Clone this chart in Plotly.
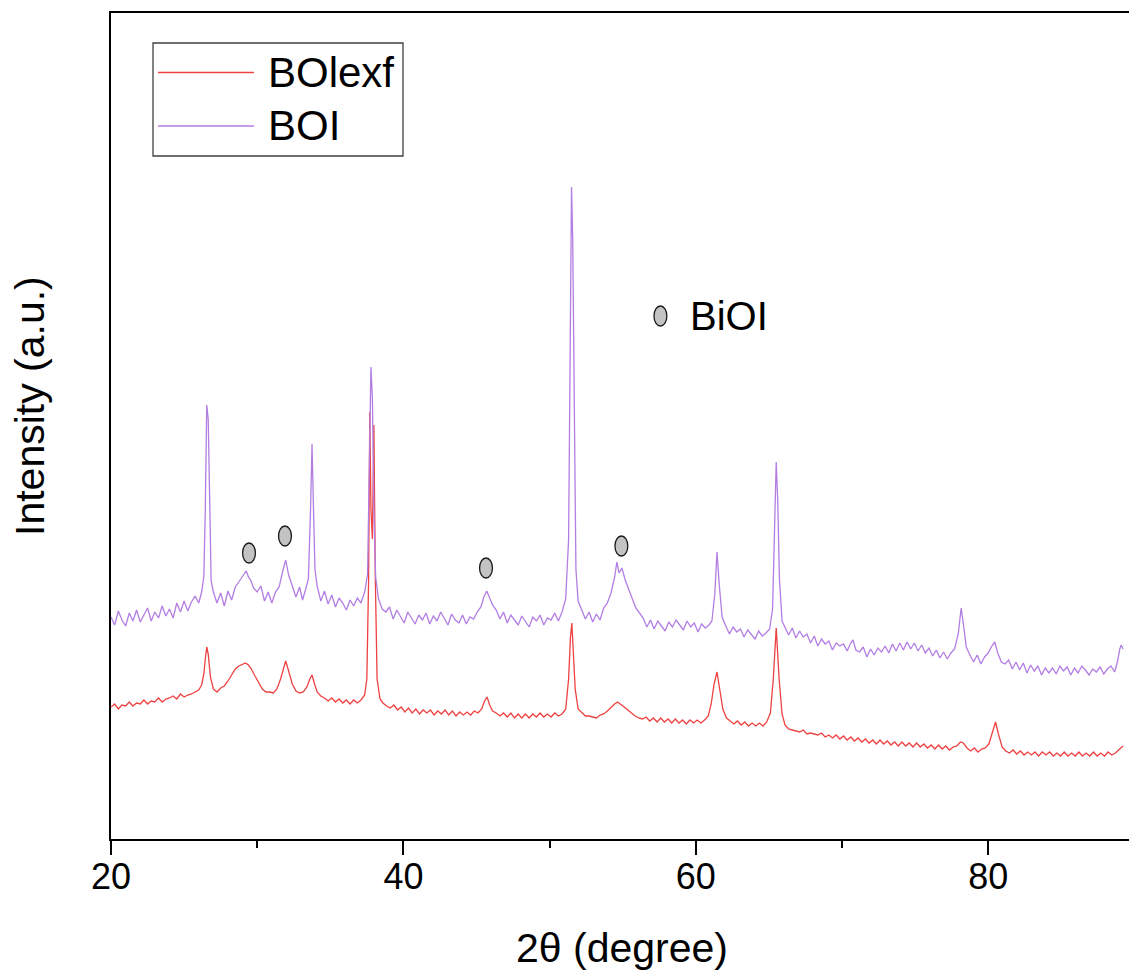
import plotly.graph_objects as go

# ---------------- data ----------------
series_names = ["BOlexf", "BOI"]
series_colors = ["#ee4141", "#b37ee3"]

# BOI pattern: (2theta, intensity a.u.)
boi_points = [
    (20.00, 222), (20.25, 214), (20.50, 228), (20.75, 219), (21.00, 213), (21.25, 226),
    (21.50, 218), (21.75, 229), (22.00, 217), (22.25, 224), (22.50, 231), (22.75, 218),
    (23.00, 227), (23.25, 221), (23.50, 233), (23.75, 223), (24.00, 230), (24.25, 221),
    (24.50, 236), (24.75, 227), (25.00, 238), (25.25, 228), (25.50, 237), (25.75, 243),
    (26.00, 236), (26.20, 247), (26.35, 262), (26.45, 330), (26.55, 434), (26.65, 420),
    (26.75, 320), (26.85, 258), (27.00, 247), (27.25, 236), (27.50, 246), (27.75, 233),
    (28.00, 248), (28.25, 239), (28.50, 252), (28.75, 257), (29.00, 263), (29.25, 268),
    (29.40, 262), (29.55, 259), (29.75, 251), (30.00, 247), (30.25, 253), (30.50, 238),
    (30.75, 247), (31.00, 236), (31.25, 247), (31.50, 252), (31.75, 268), (31.95, 279),
    (32.15, 264), (32.40, 253), (32.65, 242), (32.90, 252), (33.10, 239), (33.30, 249),
    (33.50, 260), (33.65, 330), (33.75, 395), (33.85, 330), (33.95, 270), (34.10, 253),
    (34.35, 238), (34.60, 248), (34.85, 235), (35.10, 244), (35.35, 232), (35.60, 241),
    (35.85, 236), (36.10, 229), (36.35, 239), (36.60, 233), (36.85, 241), (37.10, 236),
    (37.35, 247), (37.55, 265), (37.70, 380), (37.78, 472), (37.88, 440), (37.98, 330),
    (38.10, 262), (38.30, 240), (38.55, 230), (38.80, 227), (39.05, 232), (39.30, 220),
    (39.55, 229), (39.80, 223), (40.05, 216), (40.30, 227), (40.55, 221), (40.80, 215),
    (41.05, 224), (41.30, 219), (41.55, 226), (41.80, 215), (42.05, 223), (42.30, 218),
    (42.55, 227), (42.80, 220), (43.05, 214), (43.30, 225), (43.55, 219), (43.80, 216),
    (44.05, 224), (44.30, 215), (44.55, 222), (44.80, 220), (45.05, 227), (45.30, 232),
    (45.50, 242), (45.70, 248), (45.90, 240), (46.10, 234), (46.35, 229), (46.60, 220),
    (46.85, 227), (47.10, 216), (47.35, 224), (47.60, 219), (47.85, 214), (48.10, 223),
    (48.35, 217), (48.60, 212), (48.85, 222), (49.10, 218), (49.35, 224), (49.60, 214),
    (49.85, 221), (50.10, 219), (50.35, 226), (50.60, 218), (50.85, 227), (51.10, 240),
    (51.30, 300), (51.40, 480), (51.50, 652), (51.58, 600), (51.68, 420), (51.80, 270),
    (51.95, 238), (52.20, 229), (52.45, 220), (52.70, 227), (52.95, 217), (53.20, 225),
    (53.45, 219), (53.70, 231), (53.95, 236), (54.20, 246), (54.45, 262), (54.60, 277),
    (54.75, 266), (54.95, 271), (55.15, 260), (55.40, 250), (55.65, 241), (55.90, 231),
    (56.15, 226), (56.40, 221), (56.65, 212), (56.90, 219), (57.15, 210), (57.40, 218),
    (57.65, 213), (57.90, 208), (58.15, 217), (58.40, 212), (58.65, 219), (58.90, 214),
    (59.15, 209), (59.40, 218), (59.65, 212), (59.90, 216), (60.15, 207), (60.40, 215),
    (60.65, 211), (60.90, 214), (61.10, 218), (61.30, 245), (61.45, 287), (61.60, 255),
    (61.80, 222), (62.05, 213), (62.30, 205), (62.55, 212), (62.80, 207), (63.05, 210),
    (63.30, 202), (63.55, 209), (63.80, 205), (64.05, 200), (64.30, 208), (64.55, 203),
    (64.80, 206), (65.05, 210), (65.25, 230), (65.40, 320), (65.50, 377), (65.60, 340),
    (65.72, 260), (65.90, 218), (66.10, 212), (66.35, 204), (66.60, 211), (66.85, 201),
    (67.10, 208), (67.35, 202), (67.60, 205), (67.85, 196), (68.10, 203), (68.35, 193),
    (68.60, 200), (68.85, 195), (69.10, 198), (69.35, 189), (69.60, 196), (69.85, 193),
    (70.10, 195), (70.35, 188), (70.60, 196), (70.75, 199), (70.95, 189), (71.20, 187),
    (71.45, 192), (71.70, 182), (71.95, 190), (72.20, 184), (72.45, 191), (72.70, 187),
    (72.95, 193), (73.20, 186), (73.45, 195), (73.70, 188), (73.95, 196), (74.20, 189),
    (74.45, 197), (74.70, 190), (74.95, 196), (75.20, 188), (75.45, 194), (75.70, 186),
    (75.95, 191), (76.20, 183), (76.45, 189), (76.70, 181), (76.95, 187), (77.20, 180),
    (77.45, 186), (77.70, 190), (77.95, 205), (78.15, 231), (78.30, 215), (78.50, 192),
    (78.75, 184), (79.00, 177), (79.25, 184), (79.50, 175), (79.75, 182), (80.00, 186),
    (80.25, 193), (80.45, 197), (80.65, 186), (80.90, 177), (81.15, 175), (81.40, 179),
    (81.65, 170), (81.90, 177), (82.15, 169), (82.40, 176), (82.65, 166), (82.90, 174),
    (83.15, 168), (83.40, 173), (83.65, 164), (83.90, 171), (84.15, 166), (84.40, 171),
    (84.65, 165), (84.90, 173), (85.15, 168), (85.40, 172), (85.65, 164), (85.90, 171),
    (86.15, 166), (86.40, 173), (86.65, 169), (86.90, 164), (87.15, 170), (87.40, 167),
    (87.65, 172), (87.90, 165), (88.15, 170), (88.40, 173), (88.65, 167), (88.85, 178),
    (89.00, 190), (89.10, 194), (89.22, 190),
]

# BOlexf pattern: (2theta, intensity a.u.)
bolexf_points = [
    (20.00, 132), (20.25, 135), (20.50, 130), (20.75, 134), (21.00, 133), (21.25, 137),
    (21.50, 133), (21.75, 136), (22.00, 135), (22.25, 139), (22.50, 135), (22.75, 138),
    (23.00, 137), (23.25, 141), (23.50, 137), (23.75, 140), (24.00, 141), (24.25, 143),
    (24.50, 140), (24.75, 145), (25.00, 142), (25.25, 144), (25.50, 145), (25.75, 147),
    (26.00, 149), (26.20, 154), (26.35, 165), (26.45, 180), (26.55, 192), (26.65, 185),
    (26.80, 162), (27.00, 150), (27.25, 147), (27.50, 151), (27.75, 153), (28.00, 158),
    (28.25, 164), (28.50, 170), (28.75, 173), (29.00, 175), (29.20, 176), (29.40, 174),
    (29.60, 170), (29.85, 163), (30.10, 156), (30.35, 150), (30.60, 147), (30.85, 147),
    (31.10, 146), (31.35, 150), (31.60, 160), (31.80, 172), (31.95, 178), (32.15, 168),
    (32.40, 155), (32.65, 148), (32.90, 146), (33.15, 147), (33.40, 152), (33.60, 160),
    (33.75, 164), (33.90, 156), (34.10, 147), (34.35, 143), (34.60, 141), (34.85, 138),
    (35.10, 141), (35.35, 137), (35.60, 140), (35.85, 136), (36.10, 139), (36.35, 135),
    (36.60, 139), (36.85, 136), (37.10, 139), (37.35, 144), (37.50, 160), (37.62, 260),
    (37.70, 427), (37.78, 330), (37.88, 300), (37.98, 414), (38.08, 260), (38.20, 160),
    (38.40, 140), (38.60, 136), (38.85, 133), (39.10, 131), (39.35, 134), (39.60, 129),
    (39.85, 132), (40.10, 127), (40.35, 131), (40.60, 126), (40.85, 130), (41.10, 125),
    (41.35, 129), (41.60, 126), (41.85, 129), (42.10, 124), (42.35, 128), (42.60, 125),
    (42.85, 129), (43.10, 124), (43.35, 128), (43.60, 123), (43.85, 127), (44.10, 124),
    (44.35, 127), (44.60, 124), (44.85, 128), (45.10, 126), (45.35, 130), (45.55, 138),
    (45.72, 142), (45.90, 134), (46.10, 128), (46.35, 126), (46.60, 123), (46.85, 126),
    (47.10, 122), (47.35, 126), (47.60, 121), (47.85, 125), (48.10, 121), (48.35, 125),
    (48.60, 121), (48.85, 125), (49.10, 122), (49.35, 126), (49.60, 122), (49.85, 125),
    (50.10, 122), (50.35, 126), (50.60, 123), (50.85, 125), (51.10, 130), (51.30, 160),
    (51.42, 200), (51.52, 216), (51.62, 190), (51.75, 150), (51.95, 130), (52.20, 126),
    (52.45, 123), (52.70, 123), (52.95, 122), (53.20, 121), (53.45, 124), (53.70, 125),
    (53.95, 128), (54.20, 132), (54.45, 135), (54.65, 137), (54.85, 135), (55.10, 132),
    (55.35, 129), (55.60, 126), (55.85, 123), (56.10, 121), (56.35, 120), (56.60, 122),
    (56.85, 118), (57.10, 121), (57.35, 117), (57.60, 121), (57.85, 117), (58.10, 120),
    (58.35, 116), (58.60, 120), (58.85, 116), (59.10, 119), (59.35, 115), (59.60, 119),
    (59.85, 116), (60.10, 119), (60.35, 116), (60.60, 119), (60.85, 123), (61.05, 135),
    (61.25, 155), (61.45, 167), (61.65, 150), (61.85, 130), (62.10, 121), (62.35, 118),
    (62.60, 115), (62.85, 118), (63.10, 114), (63.35, 117), (63.60, 113), (63.85, 116),
    (64.10, 113), (64.35, 116), (64.60, 113), (64.85, 117), (65.10, 126), (65.30, 160),
    (65.50, 211), (65.70, 160), (65.90, 125), (66.10, 114), (66.35, 110), (66.60, 109),
    (66.85, 108), (67.10, 107), (67.35, 109), (67.60, 105), (67.85, 106), (68.10, 105),
    (68.35, 104), (68.60, 106), (68.85, 102), (69.10, 104), (69.35, 101), (69.60, 104),
    (69.85, 100), (70.10, 103), (70.35, 99), (70.60, 102), (70.85, 98), (71.10, 101),
    (71.35, 97), (71.60, 100), (71.85, 96), (72.10, 99), (72.35, 95), (72.60, 99),
    (72.85, 95), (73.10, 98), (73.35, 94), (73.60, 97), (73.85, 93), (74.10, 97),
    (74.35, 93), (74.60, 96), (74.85, 92), (75.10, 96), (75.35, 92), (75.60, 95),
    (75.85, 91), (76.10, 94), (76.35, 90), (76.60, 94), (76.85, 90), (77.10, 93),
    (77.35, 89), (77.60, 92), (77.85, 93), (78.10, 97), (78.30, 96), (78.55, 91),
    (78.80, 88), (79.05, 91), (79.30, 87), (79.55, 90), (79.80, 91), (80.05, 95),
    (80.30, 108), (80.50, 117), (80.70, 105), (80.95, 92), (81.20, 88), (81.45, 86),
    (81.70, 89), (81.95, 85), (82.20, 88), (82.45, 84), (82.70, 87), (82.95, 84),
    (83.20, 87), (83.45, 83), (83.70, 87), (83.95, 84), (84.20, 87), (84.45, 83),
    (84.70, 86), (84.95, 83), (85.20, 87), (85.45, 83), (85.70, 86), (85.95, 83),
    (86.20, 87), (86.45, 83), (86.70, 86), (86.95, 83), (87.20, 87), (87.45, 83),
    (87.70, 86), (87.95, 83), (88.20, 87), (88.45, 84), (88.70, 86), (88.95, 89),
    (89.22, 93),
]

# BiOI reflection markers (2theta, height where the symbol is drawn)
biol_marker_2theta = [29.44, 31.90, 45.65, 54.91]
biol_marker_height = [286, 303, 271, 293]
biol_key_2theta = 57.58
biol_key_height = 523

x_tick_values = [20, 40, 60, 80]
x_minor_tick_values = [30, 50, 70]
x_range = [20, 89.63]
y_range = [0, 826]

# ---------------- figure ----------------
FONT = "Liberation Sans, Arial, sans-serif"
fig = go.Figure()

pattern_data = [bolexf_points, boi_points]
for name, color, pts in zip(series_names, series_colors, pattern_data):
    fig.add_trace(go.Scatter(
        x=[p[0] for p in pts], y=[p[1] for p in pts], mode="lines", name=name,
        line=dict(color=color, width=1.3), showlegend=False,
    ))

shapes = []
# ellipse symbols marking BiOI reflections
half_w = 0.44   # degrees (~13 px wide)
half_h = 10     # a.u. (~20 px tall)
for xv, yv in zip(biol_marker_2theta + [biol_key_2theta], biol_marker_height + [biol_key_height]):
    shapes.append(dict(type="circle", xref="x", yref="y",
                       x0=xv - half_w, x1=xv + half_w, y0=yv - half_h, y1=yv + half_h,
                       fillcolor="#c3c3c3", line=dict(color="#1a1a1a", width=1.3)))

# legend (box + line samples) placed in paper coords
L, R, T, B = 111, 1129, 13, 839
W, H = R - L, B - T
def px(xp): return (xp - L) / W
def py(yp): return (B - yp) / H

shapes.append(dict(type="rect", xref="paper", yref="paper",
                   x0=px(153), x1=px(403), y0=py(156), y1=py(43),
                   line=dict(color="#404040", width=1.3), fillcolor="rgba(0,0,0,0)"))
legend_y = [72.5, 126]
for color, ly in zip(series_colors, legend_y):
    shapes.append(dict(type="line", xref="paper", yref="paper",
                       x0=px(158), x1=px(254), y0=py(ly), y1=py(ly),
                       line=dict(color=color, width=1.5)))

annotations = []
for name, ly in zip(series_names, legend_y):
    annotations.append(dict(text=name, xref="paper", yref="paper", x=px(266), y=py(ly),
                            xanchor="left", yanchor="middle", showarrow=False,
                            font=dict(family=FONT, size=42, color="black")))
annotations.append(dict(text="BiOI", xref="x", yref="y", x=biol_key_2theta + 1.9, y=biol_key_height,
                        xanchor="left", yanchor="middle", showarrow=False,
                        font=dict(family=FONT, size=40, color="black")))
# axis titles
annotations.append(dict(text="2θ (degree)", xref="paper", yref="paper", x=px(622), y=py(948),
                        xanchor="center", yanchor="middle", showarrow=False,
                        font=dict(family=FONT, size=41, color="black")))
annotations.append(dict(text="Intensity (a.u.)", xref="paper", yref="paper", x=px(30), y=py(406),
                        xanchor="center", yanchor="middle", showarrow=False, textangle=-90,
                        font=dict(family=FONT, size=41, color="black")))

fig.update_layout(
    width=1129, height=974,
    margin=dict(l=L, r=1129 - R, t=T, b=974 - B, pad=0),
    paper_bgcolor="white", plot_bgcolor="white",
    shapes=shapes, annotations=annotations,
    showlegend=False,
    xaxis=dict(range=x_range, tickvals=x_tick_values, ticks="outside", ticklen=14, tickwidth=2,
               tickcolor="black", showline=True, linecolor="black", linewidth=2, mirror=True,
               showgrid=False, zeroline=False, ticklabelstandoff=-9,
               tickfont=dict(family=FONT, size=36, color="black"),
               minor=dict(tickvals=x_minor_tick_values, ticks="outside", ticklen=7, tickwidth=2,
                          tickcolor="black", showgrid=False)),
    yaxis=dict(range=y_range, showticklabels=False, ticks="", showline=True, linecolor="black",
               linewidth=2, mirror=False, showgrid=False, zeroline=False),
)

fig.write_html("out.html")
